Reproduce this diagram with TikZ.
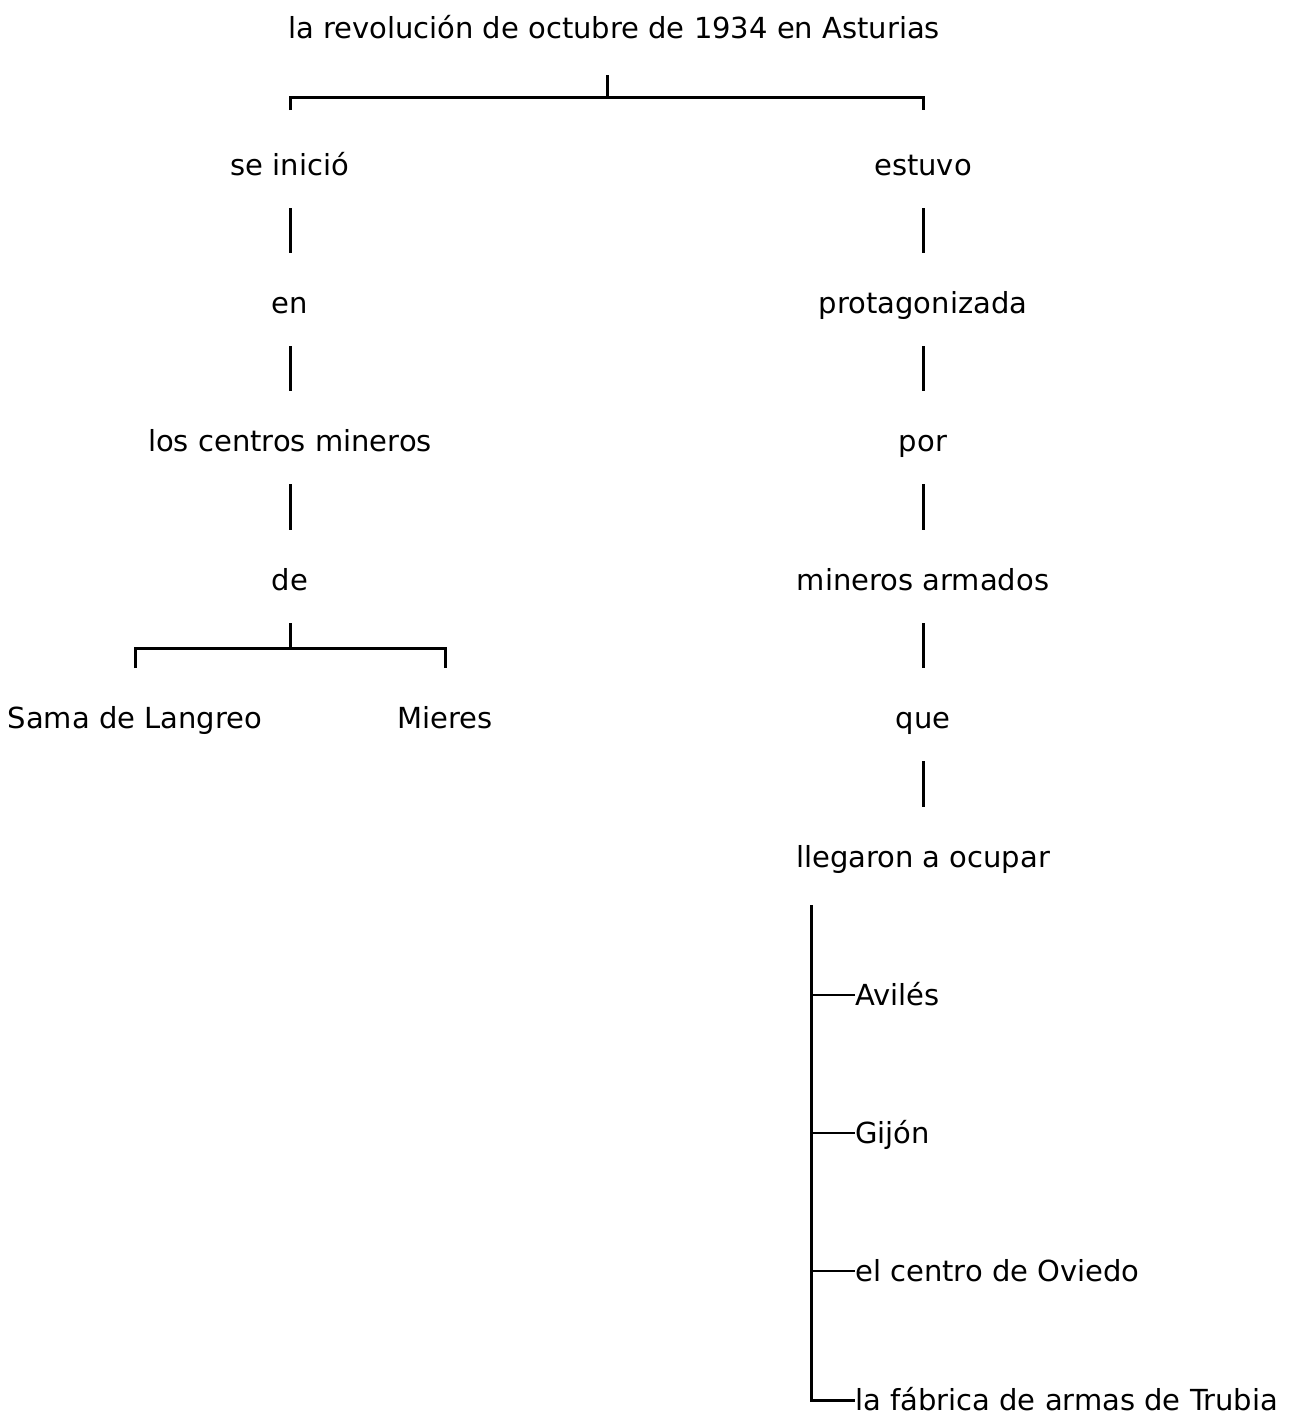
\documentclass[tikz,border=0pt]{standalone}
\usepackage{fontspec}
\setmainfont{DejaVu Sans}
\begin{document}
\begin{tikzpicture}[x=1pt,y=-1pt,
  lbl/.style={font=\fontsize{29}{34}\selectfont, inner sep=0pt, text height=23pt, text depth=2pt, minimum height=86pt},
  lft/.style={lbl, anchor=west},
  ln/.style={line width=3pt},
  thin/.style={line width=1.6pt},
  vl/.style={ln, shorten >=7pt}]
\useasboundingbox (0,0) rectangle (1309,1425);
% nodes
\node[lbl] (t) at (614,28) {la revolución de octubre de 1934 en Asturias};
\node[lbl] (si) at (290,165) {se inició};
\node[lbl] (en) at (290,303) {en};
\node[lbl] (lc) at (290,441) {los centros mineros};
\node[lbl] (de) at (290,580) {de};
\node[lbl] (sl) at (135,718) {Sama de Langreo};
\node[lbl] (mi) at (445,718) {Mieres};
\node[lbl] (es) at (923,165) {estuvo};
\node[lbl] (pr) at (923,303) {protagonizada};
\node[lbl] (po) at (923,441) {por};
\node[lbl] (ma) at (923,580) {mineros armados};
\node[lbl] (qu) at (923,718) {que};
\node[lbl] (ll) at (923,857) {llegaron a ocupar};
\node[lft] (av) at (855,995) {Avilés};
\node[lft] (gi) at (855,1133) {Gijón};
\node[lft] (ce) at (855,1271) {el centro de Oviedo};
\node[lft] (fa) at (855,1400) {la fábrica de armas de Trubia};
% top bracket
\coordinate (tt) at (607,75);
\coordinate (tj) at (607,97);
\draw[ln] (tt) -- (tj);
\draw[ln] (si.north |- tj) ++(0,13) -- (si.north |- tj) -- (es.north |- tj) -- ++(0,13);
% left chain
\draw[vl] (si.south) -- (en.north);
\draw[vl] (en.south) -- (lc.north);
\draw[vl] (lc.south) -- (de.north);
% de bracket
\coordinate (dj) at (290,648);
\draw[ln] (de.south) -- (dj);
\draw[ln] (sl.north |- dj) ++(0,20) -- (sl.north |- dj) -- (mi.north |- dj) -- ++(0,20);
% right chain
\draw[vl] (es.south) -- (pr.north);
\draw[vl] (pr.south) -- (po.north);
\draw[vl] (po.south) -- (ma.north);
\draw[vl] (ma.south) -- (qu.north);
\draw[vl] (qu.south) -- (ll.north);
% list
\coordinate (lt) at (811,905);
\draw[ln] (lt) |- (fa.west);
\draw[thin] (av.west) -- (av.west -| lt);
\draw[thin] (gi.west) -- (gi.west -| lt);
\draw[thin] (ce.west) -- (ce.west -| lt);
\end{tikzpicture}
\end{document}
